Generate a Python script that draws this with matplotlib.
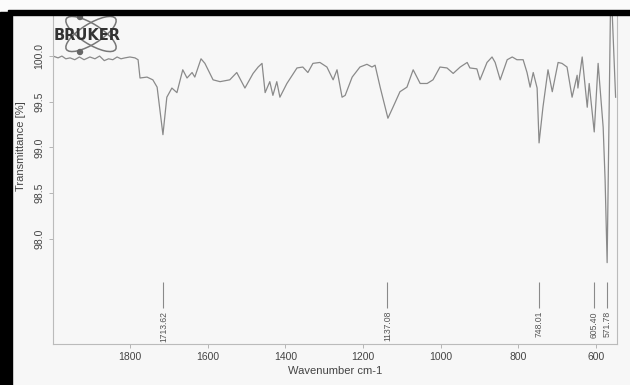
import matplotlib
matplotlib.use("Agg")
from matplotlib import pyplot as plt
from matplotlib.patches import Ellipse, Rectangle, Circle
from matplotlib.transforms import IdentityTransform


# Spectrum (wavenumber / cm-1, transmittance / %)
wavenumber = [
    1998, 1985, 1975, 1965, 1954, 1942, 1930, 1918, 1903, 1890, 1878, 1866,
    1855, 1844, 1833, 1823, 1813, 1800, 1787, 1779, 1774, 1756, 1741, 1730, 1715,
    1705, 1692, 1679, 1664, 1653, 1640, 1633, 1617, 1607, 1586, 1568, 1543,
    1525, 1504, 1483, 1470, 1460, 1452, 1440, 1432, 1422, 1414, 1396, 1370,
    1355, 1342, 1329, 1311, 1293, 1277, 1267, 1254, 1246, 1228, 1208, 1190,
    1177, 1169, 1156, 1136, 1123, 1105, 1087, 1071, 1053, 1035, 1020, 1002,
    984, 968, 950, 932, 925, 907, 899, 881, 868, 860, 847, 829,
    816, 804, 788, 778, 770, 762, 752, 747, 737, 724, 713, 698,
    688, 675, 662, 649, 647, 636, 623, 618, 605, 595, 582, 577,
    571.8, 563, 560, 550,
]
transmittance = [
    100.00, 99.98, 100.00, 99.97, 99.98, 99.96, 99.99, 99.96, 99.99, 99.97, 100.00, 99.95,
    99.97, 99.96, 99.99, 99.97, 99.98, 99.99, 99.98, 99.96, 99.76, 99.77, 99.74, 99.66, 99.14,
    99.55, 99.65, 99.60, 99.85, 99.76, 99.82, 99.77, 99.97, 99.92, 99.74, 99.72, 99.74,
    99.82, 99.65, 99.81, 99.88, 99.92, 99.60, 99.72, 99.57, 99.72, 99.55, 99.70, 99.87,
    99.88, 99.82, 99.92, 99.93, 99.88, 99.74, 99.85, 99.55, 99.57, 99.77, 99.88, 99.91,
    99.88, 99.90, 99.66, 99.32, 99.44, 99.61, 99.66, 99.85, 99.70, 99.70, 99.74, 99.88,
    99.87, 99.81, 99.88, 99.93, 99.87, 99.86, 99.74, 99.93, 99.99, 99.93, 99.74, 99.96,
    99.99, 99.96, 99.96, 99.82, 99.66, 99.82, 99.65, 99.05, 99.44, 99.85, 99.61, 99.93,
    99.92, 99.88, 99.55, 99.79, 99.65, 99.99, 99.44, 99.70, 99.17, 99.92, 99.22, 98.64,
    97.74, 100.6, 100.6, 99.55,
]

# Picked peaks
peaks = [1713.62, 1137.08, 748.01, 605.40, 571.78]

x_ticks = [1800, 1600, 1400, 1200, 1000, 800, 600]
y_ticks = [98.0, 98.5, 99.0, 99.5, 100.0]

plt.rcParams["font.family"] = ["Liberation Sans", "DejaVu Sans"]

fig = plt.figure(figsize=(6.3, 3.85), dpi=100, facecolor="#f7f7f7")
ax = fig.add_axes([0.0841, 0.1065, 0.8949, 0.8571], facecolor="#f7f7f7")

ax.plot(wavenumber, transmittance, color="#8a8a8a", lw=0.9)
ax.set_xlim(1998, 547)
ax.set_ylim(96.85, 100.46)

# Peak markers with rotated labels
for p in peaks:
    ax.vlines(p, 97.24, 97.53, color="#8a8a8a", lw=0.8)
    ax.text(p, 97.21, f"{p:.2f}", rotation=90, ha="center", va="top",
            fontsize=6.2, color="#555555")

ax.set_xticks(x_ticks)
ax.set_yticks(y_ticks)
ax.set_yticklabels([f"{v:.1f}" for v in y_ticks], rotation=90, va="center")
ax.tick_params(axis="both", length=3, width=0.6, color="#aaaaaa",
               labelsize=7.5, labelcolor="#444444", pad=3)
for side in ["left", "bottom", "right"]:
    ax.spines[side].set_color("#bbbbbb")
    ax.spines[side].set_linewidth(0.8)
ax.spines["top"].set_visible(False)

ax.set_xlabel("Wavenumber cm-1", fontsize=8, color="#444444", labelpad=3)
ax.set_ylabel("Transmittance [%]", fontsize=8, color="#444444")
ax.yaxis.set_label_coords(-0.048, 0.6)

# Bruker logo (pixel coordinates from the bottom left corner)
px = IdentityTransform()
for ang in (32, -32):
    fig.patches.append(Ellipse((91, 385 - 34), 58, 20, angle=ang, fill=False,
                               ec="#777777", lw=1.1, transform=px))
for cx, cy in [(80, 385 - 17), (80, 385 - 52)]:
    fig.patches.append(Circle((cx, cy), 2.5, color="#666666", transform=px))
fig.text(54 / 630, 1 - 35 / 385, "BRUKER", fontsize=10.5, fontweight="bold",
         family="DejaVu Sans", color="#333333", va="center", ha="left")

# Black scan border and white strip above it
fig.patches.append(Rectangle((0, 375), 630, 10, color="#fbfbfb", transform=px))
fig.patches.append(Rectangle((0, 0), 12, 373, color="black", transform=px))
fig.patches.append(Rectangle((8, 370), 622, 5, color="black", transform=px))

fig.savefig("out.png", dpi=100, facecolor=fig.get_facecolor())
